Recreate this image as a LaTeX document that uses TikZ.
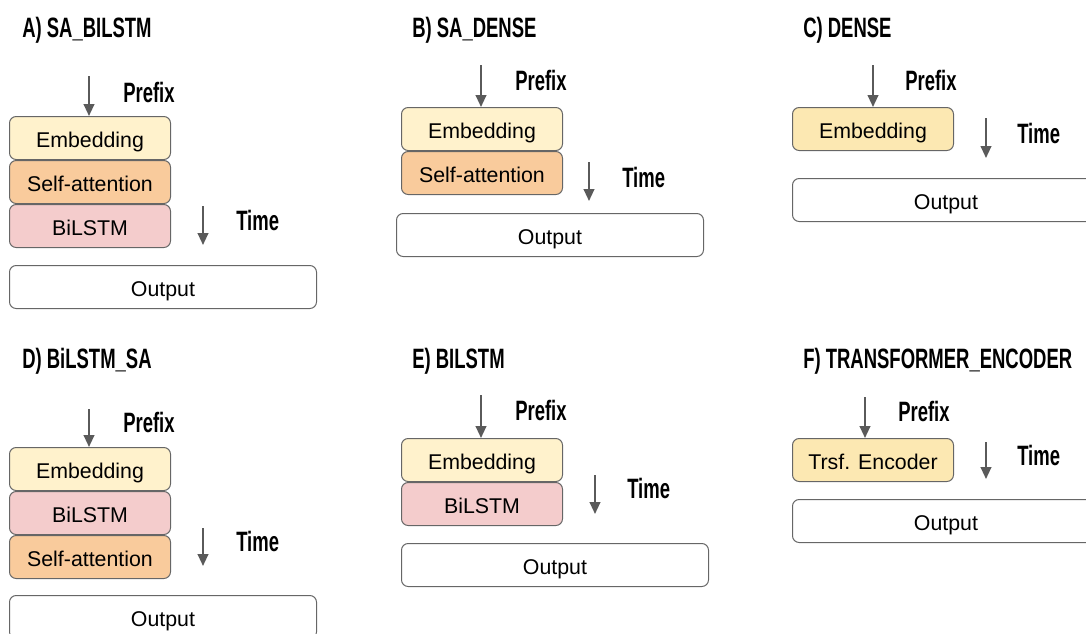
\documentclass[tikz,border=0pt]{standalone}
\usepackage{fontspec}
\setmainfont{Liberation Sans}
\newfontfamily\headfont[FakeStretch=0.66]{Liberation Sans}
\usetikzlibrary{arrows.meta}

\definecolor{embfill}{HTML}{FFF2CC}
\definecolor{embdeep}{HTML}{FCE8B2}
\definecolor{safill}{HTML}{F9CB9C}
\definecolor{lstmfill}{HTML}{F4CCCC}
\definecolor{boxline}{HTML}{666666}
\definecolor{arrowgray}{HTML}{5A5A5A}

\begin{document}
\begin{tikzpicture}[x=0.75pt,y=-0.75pt,
  layer/.style={draw=boxline, line width=0.75pt, rounded corners=5pt,
    minimum width=120.75pt, minimum height=32.25pt, inner sep=0pt,
    text height=13.7pt, text depth=0pt,
    anchor=north west, font=\fontsize{16}{19}\selectfont},
  embbox/.style={layer, fill=embfill},
  embdeepbox/.style={layer, fill=embdeep},
  sabox/.style={layer, fill=safill},
  lstmbox/.style={layer, fill=lstmfill},
  outbox/.style={layer, fill=white, minimum width=230.25pt},
  ttl/.style={anchor=base west, inner sep=0pt,
    font=\headfont\bfseries\fontsize{21}{25}\selectfont},
  lbl/.style={ttl},
  flow/.style={draw=arrowgray, line width=1.5pt,
    -{Triangle[length=9pt,width=8pt]}}
]
  \useasboundingbox (0,0) rectangle (1086,633);
  \clip (0,0) rectangle (1086,633);

  % A) SA_BILSTM
  \node[ttl] (tA) at (22,37.5) {A) SA\_BILSTM};
  \node[embbox] (embA) at (9,116) {Embedding};
  \node[sabox] (saA) at (9,160) {Self-attention};
  \node[lstmbox] (lstmA) at (9,204) {BiLSTM};
  \node[outbox] (outA) at (9,265) {Output};
  \coordinate (pA) at (89,76);
  \draw[flow] (pA) -- (pA |- embA.north);
  \node[lbl] (prefA) at (123,102) {Prefix};
  \coordinate (tA1) at (203,206);
  \coordinate (tA2) at (203,245);
  \draw[flow] (tA1) -- (tA2);
  \node[lbl] (timeA) at (236,230) {Time};

  % B) SA_DENSE
  \node[ttl] (tB) at (412,37) {B) SA\_DENSE};
  \node[embbox] (embB) at (401,107) {Embedding};
  \node[sabox] (saB) at (401,151) {Self-attention};
  \node[outbox] (outB) at (396,213) {Output};
  \coordinate (pB) at (481,65);
  \draw[flow] (pB) -- (pB |- embB.north);
  \node[lbl] (prefB) at (515,90) {Prefix};
  \coordinate (tB1) at (589,162);
  \coordinate (tB2) at (589,201);
  \draw[flow] (tB1) -- (tB2);
  \node[lbl] (timeB) at (622,187) {Time};

  % C) DENSE
  \node[ttl] (tC) at (803,37) {C) DENSE};
  \node[embdeepbox] (embC) at (792,107) {Embedding};
  \node[outbox] (outC) at (792,178) {Output};
  \coordinate (pC) at (873,65);
  \draw[flow] (pC) -- (pC |- embC.north);
  \node[lbl] (prefC) at (905,90) {Prefix};
  \coordinate (tC1) at (986,118);
  \coordinate (tC2) at (986,158);
  \draw[flow] (tC1) -- (tC2);
  \node[lbl] (timeC) at (1017,143) {Time};

  % D) BiLSTM_SA
  \node[ttl] (tD) at (22,368) {D) BiLSTM\_SA};
  \node[embbox] (embD) at (9,447) {Embedding};
  \node[lstmbox] (lstmD) at (9,491) {BiLSTM};
  \node[sabox] (saD) at (9,535) {Self-attention};
  \node[outbox] (outD) at (9,595) {Output};
  \coordinate (pD) at (89,409);
  \draw[flow] (pD) -- (pD |- embD.north);
  \node[lbl] (prefD) at (123,432.5) {Prefix};
  \coordinate (tD1) at (203,528);
  \coordinate (tD2) at (203,566);
  \draw[flow] (tD1) -- (tD2);
  \node[lbl] (timeD) at (236,551.5) {Time};

  % E) BILSTM
  \node[ttl] (tE) at (412,368) {E) BILSTM};
  \node[embbox] (embE) at (401,438) {Embedding};
  \node[lstmbox] (lstmE) at (401,482) {BiLSTM};
  \node[outbox] (outE) at (401,543) {Output};
  \coordinate (pE) at (481,395);
  \draw[flow] (pE) -- (pE |- embE.north);
  \node[lbl] (prefE) at (515,420) {Prefix};
  \coordinate (tE1) at (595,475);
  \coordinate (tE2) at (595,514);
  \draw[flow] (tE1) -- (tE2);
  \node[lbl] (timeE) at (627,498.5) {Time};

  % F) TRANSFORMER_ENCODER
  \node[ttl] (tF) at (803,368) {F) TRANSFORMER\_ENCODER};
  \node[embdeepbox] (trfF) at (792,438) {Trsf. Encoder};
  \node[outbox] (outF) at (792,499) {Output};
  \coordinate (pF) at (865,397);
  \draw[flow] (pF) -- (pF |- trfF.north);
  \node[lbl] (prefF) at (898,421.5) {Prefix};
  \coordinate (tF1) at (986,442);
  \coordinate (tF2) at (986,479);
  \draw[flow] (tF1) -- (tF2);
  \node[lbl] (timeF) at (1017,465) {Time};
\end{tikzpicture}
\end{document}
